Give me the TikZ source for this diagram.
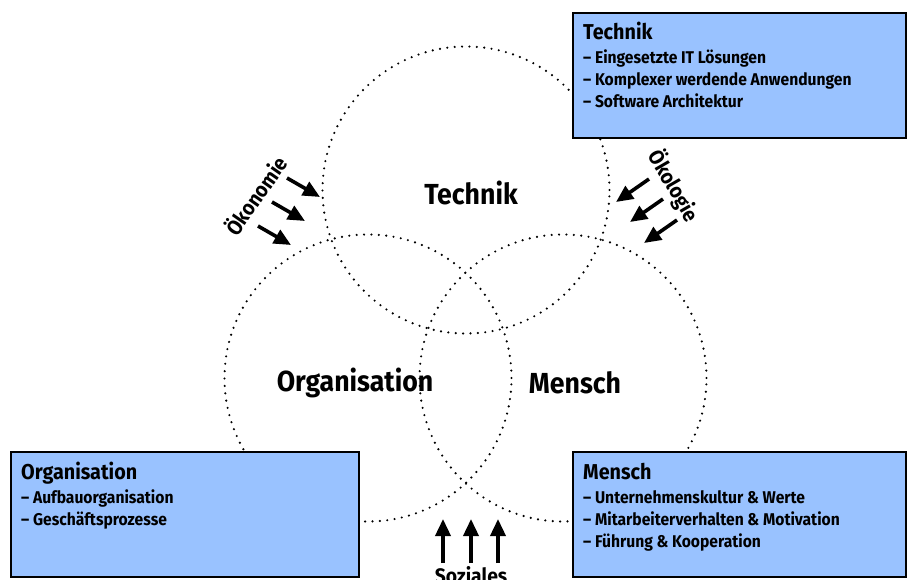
\documentclass[tikz,border=0pt]{standalone}
\usepackage{fontspec}
\setmainfont{Fira Sans}[FakeStretch=0.92]
\usetikzlibrary{positioning, arrows.meta}
\definecolor{boxFill}{RGB}{153, 194, 255}
\definecolor{lineColor}{RGB}{0, 0, 0}
\tikzset{
    venn_circle/.style={
        circle,
        draw=lineColor,
        line width=2.4pt,
        line cap=round,
        dash pattern=on 0pt off 7.4pt,
        minimum size=287pt,
        inner sep=0pt
    },
    venn_label/.style={
        font=\fontsize{29}{33}\selectfont\bfseries
    },
    info_box/.style={
        draw=lineColor,
        line width=2.2pt,
        fill=boxFill,
        minimum width=333pt,
        minimum height=125pt,
        inner sep=0pt
    },
    info_title/.style={
        anchor=base west,
        inner sep=0pt,
        font=\fontsize{21.5}{24}\selectfont\bfseries
    },
    info_item/.style={
        anchor=base west,
        inner sep=0pt,
        font=\fontsize{17}{20}\selectfont\bfseries
    },
    force_arrow/.style={
        -{Triangle[length=17pt, width=15pt]},
        line width=3.6pt,
        draw=lineColor
    },
    force_label/.style={
        inner sep=0pt,
        font=\fontsize{21}{24}\selectfont\bfseries
    }
}

\begin{document}
\begin{tikzpicture}[x=1pt, y=-1pt]
    \useasboundingbox (0,0) rectangle (907,580);

    % the three dotted circles
    \node[venn_circle] (tech) at (466,190) {};
    \node[venn_circle] (org) at (368,378) {};
    \node[venn_circle] (mensch) at (563,378) {};

    \node[venn_label] (tech_lbl) at (471,193) {Technik};
    \node[venn_label] (org_lbl) at (355,383) {Organisation};
    \node[venn_label] (mensch_lbl) at (575,383) {Mensch};

    % Technik box
    \node[info_box, anchor=north west] (tech_box) at (572,12) {};
    \node[info_title] (tech_title) at ([shift={(11,28)}]tech_box.north west) {Technik};
    \node[info_item] (tech_it1) at ([shift={(11,52)}]tech_box.north west) {– Eingesetzte IT Lösungen};
    \node[info_item] (tech_it2) at ([shift={(11,74)}]tech_box.north west) {– Komplexer werdende Anwendungen};
    \node[info_item] (tech_it3) at ([shift={(11,96)}]tech_box.north west) {– Software Architektur};

    % Organisation box
    \node[info_box, minimum width=348pt, anchor=north west] (org_box) at (10,451) {};
    \node[info_title] (org_title) at ([shift={(11,28)}]org_box.north west) {Organisation};
    \node[info_item] (org_it1) at ([shift={(11,52)}]org_box.north west) {– Aufbauorganisation};
    \node[info_item] (org_it2) at ([shift={(11,74)}]org_box.north west) {– Geschäftsprozesse};

    % Mensch box
    \node[info_box, anchor=north west] (mensch_box) at (572,451) {};
    \node[info_title] (mensch_title) at ([shift={(11,28)}]mensch_box.north west) {Mensch};
    \node[info_item] (mensch_it1) at ([shift={(11,52)}]mensch_box.north west) {– Unternehmenskultur \& Werte};
    \node[info_item] (mensch_it2) at ([shift={(11,74)}]mensch_box.north west) {– Mitarbeiterverhalten \& Motivation};
    \node[info_item] (mensch_it3) at ([shift={(11,96)}]mensch_box.north west) {– Führung \& Kooperation};

    % outside forces
    \node[force_label, rotate=55] (oek_lbl) at (255,195) {Ökonomie};
    \foreach \i/\x/\y in {1/287/178, 2/272/202, 3/258/226} {
        \coordinate (oek_s\i) at (\x,\y);
        \coordinate (oek_e\i) at ([shift={(33,19)}]oek_s\i);
        \draw[force_arrow] (oek_s\i) -- (oek_e\i);
    }

    \node[force_label, rotate=-60] (oko_lbl) at (674,186) {Ökologie};
    \foreach \i/\x/\y in {1/649/179, 2/663/199, 3/677/220} {
        \coordinate (oko_s\i) at (\x,\y);
        \coordinate (oko_e\i) at ([shift={(-33,23)}]oko_s\i);
        \draw[force_arrow] (oko_s\i) -- (oko_e\i);
    }

    \node[force_label, anchor=base] (soz_lbl) at (471,583) {Soziales};
    \foreach \i/\x in {1/443, 2/471, 3/498} {
        \coordinate (soz_s\i) at (\x,563);
        \coordinate (soz_e\i) at (\x,519);
        \draw[force_arrow] (soz_s\i) -- (soz_e\i);
    }
\end{tikzpicture}
\end{document}
